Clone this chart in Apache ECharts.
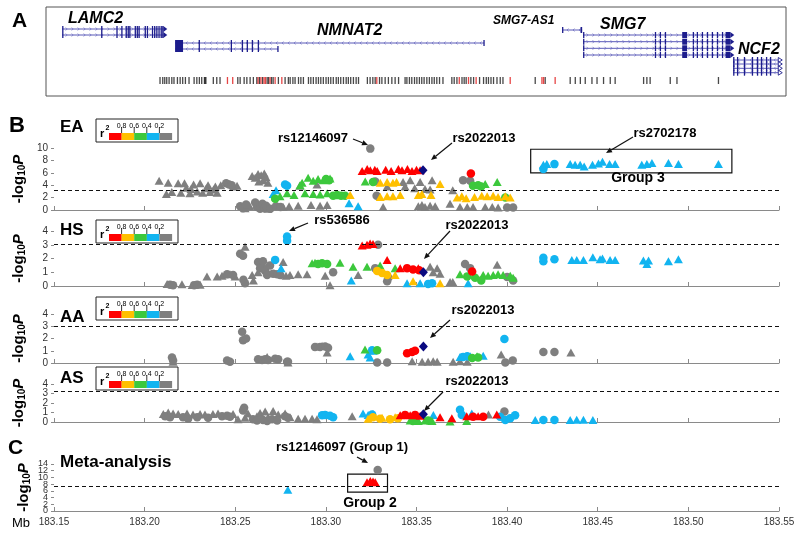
<!DOCTYPE html>
<html><head><meta charset="utf-8">
<script src="https://cdn.jsdelivr.net/npm/echarts@6/dist/echarts.min.js"></script>
<style>html,body{margin:0;padding:0;background:#fff}#c{width:800px;height:533px}</style>
</head><body><div id="c"></div>
<script>
// ================= DATA =================
const X_MIN = 183.15, X_MAX = 183.55, X_STEP = 0.05;
const xTickLabels = ['183.15','183.20','183.25','183.30','183.35','183.40','183.45','183.50','183.55'];

// ---- Panel A: transcripts (Mb) ----
const txGene  = ['LAMC2','LAMC2','NMNAT2','NMNAT2','SMG7-AS1','SMG7','SMG7','SMG7','SMG7','NCF2','NCF2','NCF2','NCF2'];
const txStart = [183.1545,183.1545,183.2168,183.2168,183.4303,183.4419,183.4419,183.4419,183.4419,183.5247,183.5247,183.5247,183.5247];
const txEnd   = [183.2103,183.2103,183.3873,183.2736,183.4414,183.5231,183.5231,183.5231,183.5231,183.5496,183.5496,183.5496,183.5496];
const txStrand= ['+','+','-','-','-','+','+','+','+','-','-','-','-'];
const exLAMC2 = [[183.1545,183.1552],[183.1760,183.1765],[183.1844,183.1849],[183.1871,183.1876],[183.1895,183.1899],[183.1906,183.1910],[183.1915,183.1920],[183.1945,183.1950],[183.1956,183.1960],[183.1966,183.1972],[183.2000,183.2005],[183.2012,183.2018],[183.2040,183.2046],[183.2052,183.2058],[183.2064,183.2070],[183.2076,183.2082],[183.2088,183.2094],[183.2097,183.2103]];
const exNMNAT2a = [[183.2168,183.2212],[183.2298,183.2302],[183.2475,183.2479],[183.2536,183.2540],[183.2563,183.2567],[183.2591,183.2595],[183.2624,183.2628],[183.3869,183.3873]];
const exNMNAT2b = [[183.2168,183.2212],[183.2298,183.2302],[183.2475,183.2479],[183.2536,183.2540],[183.2563,183.2567],[183.2591,183.2595],[183.2624,183.2628],[183.2732,183.2736]];
const exSMG7AS1 = [[183.4303,183.4308],[183.4405,183.4414]];
const exSMG7 = [[183.4419,183.4424],[183.4815,183.4819],[183.4842,183.4846],[183.4870,183.4874],[183.4966,183.4993],[183.5024,183.5028],[183.5046,183.5050],[183.5074,183.5078],[183.5102,183.5106],[183.5129,183.5133],[183.5157,183.5161],[183.5185,183.5189],[183.5205,183.5231]];
const exNCF2 = [[183.5247,183.5250],[183.5268,183.5271],[183.5306,183.5310],[183.5350,183.5354],[183.5378,183.5382],[183.5400,183.5404],[183.5428,183.5432],[183.5450,183.5454]];
const txExons = [exLAMC2,exLAMC2,exNMNAT2a,exNMNAT2b,exSMG7AS1,exSMG7,exSMG7,exSMG7,exSMG7,exNCF2,exNCF2,exNCF2,exNCF2];

// ---- Panel A: SNP positions (Mb) ----
const snpBlack = [183.2085,183.2100,183.2111,183.2122,183.2135,183.2150,183.2162,183.2181,183.2196,183.2210,183.2225,183.2245,183.2273,183.2288,183.2302,183.2315,183.2330,183.2334,183.2338,183.2379,183.2398,183.2416,183.2514,183.2527,183.2549,183.2564,183.2582,183.2600,183.2619,183.2634,183.2651,183.2676,183.2684,183.2700,183.2709,183.2738,183.2775,183.2793,
183.2803,183.2818,183.2830,183.2849,183.2862,183.2876,183.2904,183.2917,183.2931,183.2946,183.2959,183.2972,183.2986,183.3001,183.3014,183.3027,183.3041,183.3057,183.3069,183.3082,183.3097,183.3112,183.3124,183.3137,183.3152,183.3167,183.3180,183.3229,183.3244,183.3259,183.3272,183.3296,183.3309,183.3327,183.3345,183.3364,183.3382,183.3401,183.3437,183.3447,183.3461,183.3474,183.3489,183.3502,183.3516,183.3529,183.3542,183.3557,183.3571,183.3585,183.3598,183.3612,183.3627,183.3646,183.3695,183.3708,183.3723,183.3751,183.3763,183.3774,183.3800,183.3815,183.3848,183.3870,183.3885,183.3897,183.3911,183.3925,183.3944,183.3962,183.3977,
183.4155,183.4210,183.4348,183.4376,183.4404,183.4431,183.4468,183.4496,183.4532,183.4569,183.4596,183.4753,183.4771,183.4789,183.4900,183.4937,183.5166];
const snpRed = [183.2457,183.2486,183.2626,183.2642,183.2659,183.2667,183.2692,183.2720,183.2757,183.3281,183.3736,183.3787,183.3829,183.4017,183.4192,183.4201,183.4265];

// ---- EA ----
const EA_gray_t = [[183.2080,4.7],[183.2130,4.4],[183.2185,4.3],[183.2220,4.3],[183.2270,4.1],[183.2306,4.3],[183.2350,4.0],[183.2390,3.8],[183.2420,4.0],[183.2490,3.8],[183.2510,3.9],
[183.2120,2.6],[183.2150,2.9],[183.2200,2.8],[183.2250,2.7],[183.2290,3.0],[183.2320,2.8],[183.2360,2.9],[183.2400,2.8],
[183.2256,3.4],[183.2340,3.5],[183.2230,3.6],[183.2380,3.3],
[183.2593,5.5],[183.2610,5.2],[183.2626,5.8],[183.2643,5.6],[183.2660,5.9],[183.2670,5.3],[183.2654,4.8],[183.2680,4.4],[183.2630,4.6],
[183.2554,0.3],[183.2580,0.6],[183.2680,0.2],[183.2764,0.5],[183.2797,0.6],[183.2847,0.7],[183.2918,0.8],[183.2968,0.7],[183.3007,0.8],
[183.2856,3.9],[183.2951,4.1],[183.3316,0.5],[183.3338,3.8],
[183.3426,4.5],[183.3465,4.8],[183.3520,4.5],[183.3437,3.8],[183.3490,3.5],[183.3547,3.4],[183.3575,3.3],[183.3586,4.8],
[183.3510,0.6],[183.3530,0.8],[183.3547,0.5],[183.3575,0.7],[183.3603,0.6],[183.3685,1.0],[183.3700,3.2],
[183.3740,0.5],[183.3780,0.5],[183.3812,0.5],[183.3879,0.5],[183.3918,0.5],[183.3950,0.4]];
const EA_gray_c = [[183.2450,4.3],[183.2466,4.1],[183.2480,4.0],
[183.2527,0.6],[183.2543,0.3],[183.2560,0.9],[183.2610,1.2],[183.2620,0.5],[183.2637,0.2],[183.2650,1.0],[183.2660,0.3],[183.2670,0.7],[183.2693,0.2],[183.2725,0.6],[183.2750,0.5],
[183.3245,9.9],[183.3272,4.6],[183.3280,2.3],[183.3757,4.8],[183.3796,4.7],[183.4000,0.4],[183.4033,0.4]];
const EA_blue_t = [[183.2725,3.2],[183.2709,2.6],[183.3128,1.1],[183.3178,0.6],
[183.4200,7.3],[183.4219,7.4],[183.4348,7.4],[183.4375,7.3],[183.4403,7.3],[183.4425,7.0],[183.4471,7.3],[183.4504,7.5],[183.4526,7.8],[183.4565,7.4],[183.4596,7.4],[183.4743,7.3],[183.4771,7.4],[183.4799,7.6],[183.4890,7.6],[183.4945,7.4],[183.5166,7.4]];
const EA_blue_c = [[183.2775,4.1],[183.2786,3.9],[183.4200,6.6],[183.4261,7.4]];
const EA_green_t = [[183.2869,4.4],[183.2902,5.2],[183.2930,4.7],[183.2957,5.0],[183.2985,4.8],[183.2858,4.0],[183.3023,5.1],
[183.2747,2.2],[183.2786,2.7],[183.2824,2.4],[183.2885,2.7],[183.2930,2.6],[183.2968,2.5],[183.3007,2.7],[183.3217,4.6],[183.3879,4.2],[183.3945,4.5]];
const EA_green_c = [[183.3001,5.0],[183.3018,4.8],[183.2720,1.8],[183.3040,2.3],[183.3062,2.4],[183.3084,2.3],[183.3106,2.3],[183.3260,4.5],[183.3812,3.9],[183.3857,3.8],[183.3840,4.0],[183.3990,2.0]];
const EA_orange_t = [[183.3134,2.4],[183.3300,4.4],[183.3338,4.5],[183.3370,4.4],[183.3390,4.5],[183.3300,2.1],[183.3338,2.2],[183.3370,2.2],[183.3410,2.4],[183.3510,2.4],[183.3530,2.6],[183.3580,2.4],[183.3630,4.2],[183.3724,2.0],[183.3750,2.2],[183.3774,1.9],[183.3820,2.1],[183.3860,2.3],[183.3890,2.2],[183.3923,2.3],[183.3950,2.1],[183.3990,2.2],[183.4017,2.0]];
const EA_red_t = [[183.3200,6.3],[183.3228,6.6],[183.3245,6.4],[183.3270,6.5],[183.3283,6.3],[183.3330,6.5],[183.3360,6.3],[183.3400,6.6],[183.3420,6.4],[183.3450,6.6],[183.3475,6.3],[183.3500,6.5],[183.3520,6.4]];
const EA_red_c = [[183.3800,5.9]];
const EA_navy = [[183.3536,6.4]];

// ---- HS ----
const HS_gray_t = [[183.2124,0.15],[183.2206,0.12],[183.2262,0.08],[183.2306,0.1],[183.2344,0.7],[183.2400,0.7],[183.2427,0.75],[183.2471,0.85],[183.2499,0.7],[183.2554,2.85],[183.2593,0.8],[183.2600,0.4],[183.2626,1.0],[183.2653,1.6],[183.2681,1.0],[183.2764,1.75],[183.2780,0.75],[183.2802,0.8],[183.2847,0.85],[183.2896,0.85],[183.2996,0.75],[183.3023,0.05],[183.3178,0.8],
[183.3575,1.4],[183.3614,1.3],[183.3592,1.0],[183.3630,0.9],[183.3685,0.3],[183.3700,0.3],[183.3945,1.55]];
const HS_gray_c = [[183.2140,0.1],[183.2157,0.05],[183.2273,0.05],[183.2290,0.1],[183.2455,0.85],[183.2488,0.8],[183.2527,2.35],[183.2543,2.2],[183.2545,0.45],[183.2554,0.2],[183.2626,1.75],[183.2637,1.3],[183.2653,1.8],[183.2665,1.1],[183.2676,0.8],[183.2692,1.5],[183.2709,0.9],[183.2731,0.85],[183.2748,0.8],[183.3040,1.0],[183.3272,1.3],[183.3288,3.0],[183.3338,0.35],[183.3345,0.6],[183.3768,1.6],[183.3796,1.3],[183.4000,0.65],[183.4033,0.4]];
const HS_blue_c = [[183.2720,1.9],[183.2786,3.6],[183.2786,3.3],[183.3564,0.15],[183.3586,0.2],[183.4200,2.05],[183.4200,1.8],[183.4261,1.95]];
const HS_blue_t = [[183.2753,1.3],[183.3140,0.4],[183.3448,0.2],[183.3520,0.2],[183.3785,0.2],[183.4357,1.9],[183.4384,1.9],[183.4421,1.9],[183.4473,2.1],[183.4513,1.95],[183.4526,2.0],[183.4568,1.9],[183.4596,1.9],[183.4752,1.85],[183.4780,1.85],[183.4771,1.6],[183.4890,1.8],[183.4945,1.95]];
const HS_green_t = [[183.2924,1.65],[183.2940,1.7],[183.3078,1.7],[183.3150,1.4],[183.3227,1.4],[183.3299,1.5],[183.3382,1.3],[183.3740,0.85],[183.3868,0.8],[183.3895,0.75],[183.3923,0.8],[183.3950,0.85],[183.3978,0.8],[183.4017,0.75],[183.4033,0.6]];
const HS_green_c = [[183.2957,1.6],[183.2979,1.65],[183.3007,1.6],[183.3780,0.7],[183.3823,0.6],[183.3857,0.4]];
const HS_orange_t = [[183.3382,0.8],[183.3481,0.35],[183.3630,0.2]];
const HS_orange_c = [[183.3283,1.1],[183.3310,0.95],[183.3338,0.8]];
const HS_red_t = [[183.3200,2.95],[183.3227,3.0],[183.3244,3.1],[183.3260,3.05],[183.3338,1.9],[183.3410,1.3],[183.3510,1.3]];
const HS_red_c = [[183.3448,1.3],[183.3481,1.2],[183.3515,1.15],[183.3807,1.05]];
const HS_navy = [[183.3538,1.0]];

// ---- AA ----
const AA_gray_c = [[183.2151,0.45],[183.2157,0.2],[183.2455,0.2],[183.2471,0.1],[183.2538,2.55],[183.2543,1.85],[183.2560,2.0],[183.2626,0.3],[183.2648,0.25],[183.2665,0.3],[183.2681,0.25],[183.2720,0.35],[183.2737,0.3],[183.2786,0.1],[183.2791,0.1],[183.2940,1.3],[183.2968,1.3],[183.2996,1.35],[183.3012,1.25],[183.3283,0.05],[183.3338,0.05],[183.3990,0.05],[183.4031,0.2],[183.4200,0.9],[183.4261,0.9]];
const AA_gray_t = [[183.2157,0.1],[183.2676,0.5],[183.2791,0.05],[183.2951,1.35],[183.2979,1.4],[183.3007,0.85],[183.3476,0.15],[183.3531,0.1],[183.3564,0.1],[183.3592,0.15],[183.3614,0.1],[183.3702,0.1],[183.3740,0.15],[183.3780,0.1],[183.3967,0.7],[183.4352,0.85]];
const AA_blue_t = [[183.3134,0.55],[183.3233,0.7],[183.3244,0.45],[183.3260,1.0],[183.3740,0.5],[183.3796,0.55],[183.3868,0.6]];
const AA_blue_c = [[183.3255,1.05],[183.3757,0.5],[183.3780,0.55],[183.3985,1.95]];
const AA_green_t = [[183.3216,1.1],[183.3834,0.55]];
const AA_green_c = [[183.3283,1.05],[183.3807,0.4],[183.3840,0.45]];
const AA_red_c = [[183.3448,0.8],[183.3476,0.9],[183.3492,1.0]];
const AA_navy = [[183.3538,1.35]];

// ---- AS ----
const AS_gray_t = [[183.2103,0.85],[183.2130,1.0],[183.2157,0.9],[183.2185,0.85],[183.2234,0.9],[183.2267,0.8],[183.2306,0.85],[183.2333,0.8],[183.2377,0.85],[183.2405,0.9],[183.2488,0.85],[183.2515,0.3],[183.2554,0.45],[183.2570,0.9],[183.2620,0.6],[183.2637,0.95],[183.2665,1.1],[183.2681,0.5],[183.2709,1.15],[183.2737,0.8],[183.2775,0.9],[183.2802,0.5],[183.2847,0.35],[183.2885,0.35],[183.2924,0.35],[183.2951,0.3],[183.3145,0.6],[183.3897,0.8]];
const AS_gray_c = [[183.2113,0.6],[183.2140,0.5],[183.2212,0.5],[183.2240,0.35],[183.2290,0.5],[183.2350,0.45],[183.2427,0.6],[183.2455,0.65],[183.2471,0.55],[183.2549,1.5],[183.2543,1.2],[183.2598,0.3],[183.2620,0.15],[183.2653,0.2],[183.2676,0.1],[183.2703,0.3],[183.2731,0.15],[183.2775,0.6],[183.2791,0.45],[183.3985,1.1]];
const AS_blue_c = [[183.2979,0.7],[183.2996,0.75],[183.3023,0.65],[183.3040,0.5],[183.3255,0.8],[183.3740,1.3],[183.3750,0.75],[183.3961,0.55],[183.4017,0.4],[183.4044,0.7],[183.3990,0.2],[183.4200,0.2],[183.4261,0.2]];
const AS_blue_t = [[183.3205,0.9],[183.3233,0.75],[183.3260,0.85],[183.3593,0.75],[183.3805,0.9],[183.4155,0.2],[183.4348,0.2],[183.4384,0.25],[183.4421,0.25],[183.4473,0.2]];
const AS_green_t = [[183.3465,0.15],[183.3510,0.1],[183.3547,0.15],[183.3586,0.1],[183.3685,0.05],[183.3777,0.1]];
const AS_green_c = [[183.3480,0.1],[183.3564,0.15]];
const AS_orange_t = [[183.3233,0.35],[183.3310,0.45],[183.3382,0.5]];
const AS_orange_c = [[183.3260,0.5],[183.3299,0.35],[183.3354,0.3],[183.3398,0.4]];
const AS_red_t = [[183.3410,0.7],[183.3465,0.7],[183.3520,0.65],[183.3630,0.5],[183.3695,0.4],[183.3777,0.6],[183.3840,0.6],[183.3943,0.8]];
const AS_red_c = [[183.3437,0.75],[183.3492,0.75],[183.3812,0.55],[183.3868,0.55]];
const AS_navy = [[183.3538,0.82]];

// ---- Meta-analysis ----
const META_blue_t = [[183.2790,6.3]];
const META_red_t = [[183.3227,8.6],[183.3245,8.9],[183.3260,8.8],[183.3272,8.6]];
const META_gray_c = [[183.3286,12.2]];

// thresholds (-log10 P), y-axis ranges and tick labels
const thresholds = [3.15, 3.05, 3.0, 3.2, 7.3];
const yMax = [10, 4, 4, 4, 14];
const yStep = [2, 1, 1, 1, 2];
const yTickLabels = [
  ['0','2','4','6','8','10'],
  ['0','1','2','3','4'],
  ['0','1','2','3','4'],
  ['0','1','2','3','4'],
  ['0','2','4','6','8','10','12','14']
];
const panelNames = ['EA','HS','AA','AS','Meta-analysis'];
const group3Box = [[183.413, 6.0],[183.524, 9.8]];
const group2Box = [[183.312, 5.65],[183.334, 11.0]];
const legendBreaks = ['0.8','0.6','0.4','0.2'];

// ================= STYLE / LAYOUT =================
const FONT = 'Liberation Sans, Arial, sans-serif';
const C = {red:'#FF0000', orange:'#FFC000', green:'#3CC83C', blue:'#12B4F0', gray:'#7F7F7F', navy:'#0A0A80'};
const GENE_C = '#1C1C8C';
const GRID_L = 54, GRID_W = 725;
const gridTop = [7,148,231,314,384,464];
const gridH   = [89,62,55,49,38,47];
const txRowY  = [22,28,36,42,23,28,34.7,41.3,48,53,57,61.3,65.7];
const txEndMark = ['arrow','arrow','','','','arrow','arrow','arrow','arrow','open','open','open','open'];
const SNP_ROW = 73.5;
const yLabelFont = [10,10,10,10,9];

const grids = gridTop.map((t,i)=>({left:GRID_L, top:t, width:GRID_W, height:gridH[i]}));
const xAxes = gridTop.map((t,i)=>({
  gridIndex:i, type:'value', min:X_MIN, max:X_MAX, interval:X_STEP, show:i>0,
  axisLine:{show:true, onZero:false, lineStyle:{color:'#8a8a8a', width:1}},
  axisTick:{show:true, inside:true, length:4, lineStyle:{color:'#8a8a8a'}},
  axisLabel:{show:i===5, fontSize:10, color:'#333', margin:6, fontFamily:FONT, showMinLabel:true, showMaxLabel:true, hideOverlap:false,
    formatter:v=>{const k=Math.round((v-X_MIN)/X_STEP); return xTickLabels[k]||'';}},
  splitLine:{show:false}
}));
const yAxes = gridTop.map((t,i)=>{
  if(i===0) return {gridIndex:0, type:'value', min:0, max:89, inverse:true, show:false};
  const p=i-1;
  return {gridIndex:i, type:'value', min:0, max:yMax[p], interval:yStep[p],
    axisLine:{show:false}, axisTick:{show:true, length:3, lineStyle:{color:'#8a8a8a'}},
    axisLabel:{show:false},
    splitLine:{show:false},
    name:'{a|-log}{b|10}{c|P}', nameLocation:'middle', nameRotate:90, nameGap:i===5?22:27,
    nameTextStyle:{rich:{
      a:{fontSize:15, fontWeight:'bold', fontFamily:FONT, color:'#000'},
      b:{fontSize:10, fontWeight:'bold', fontFamily:FONT, color:'#000', verticalAlign:'bottom', padding:[6,0,0,0]},
      c:{fontSize:15, fontWeight:'bold', fontStyle:'italic', fontFamily:FONT, color:'#000'}}}
  };
});

const series = [];
// transcripts
series.push({
  type:'custom', xAxisIndex:0, yAxisIndex:0, silent:true,
  data: txGene.map((g,i)=>[txStart[i], txEnd[i], txRowY[i]]),
  renderItem:(params, api)=>{
    const i = params.dataIndex;
    const y = api.coord([X_MIN, api.value(2)])[1];
    const x1 = api.coord([api.value(0), 0])[0], x2 = api.coord([api.value(1), 0])[0];
    const ch = [{type:'line', shape:{x1, y1:y, x2, y2:y}, style:{stroke:'#4848b0', lineWidth:0.9}}];
    const dir = txStrand[i]==='+' ? 1 : -1;
    for(let k=x1+5; k<x2-3; k+=6){
      ch.push({type:'polyline', shape:{points:[[k-1.5*dir,y-1.5],[k,y],[k-1.5*dir,y+1.5]]}, style:{stroke:'#6a6ac0', lineWidth:0.7, fill:null}});
    }
    txExons[i].forEach(([s,e])=>{
      const a = api.coord([s,0])[0], b = api.coord([e,0])[0];
      ch.push({type:'rect', shape:{x:a, y:y-3, width:Math.max(1.3,b-a), height:6}, style:{fill:GENE_C}});
    });
    if(txEndMark[i]==='arrow'){
      ch.push({type:'polygon', shape:{points:[[x2,y-3],[x2+4,y],[x2,y+3]]}, style:{fill:GENE_C}});
    } else if(txEndMark[i]==='open'){
      ch.push({type:'polygon', shape:{points:[[x2,y-2.5],[x2+4,y],[x2,y+2.5]]}, style:{fill:'#fff', stroke:GENE_C, lineWidth:0.9}});
    }
    return {type:'group', children:ch};
  }
});
series.push({type:'scatter', xAxisIndex:0, yAxisIndex:0, silent:true, symbol:'rect', symbolSize:[1.3,7],
  itemStyle:{color:'#1a1a1a'}, data:snpBlack.map(v=>[v,SNP_ROW])});
series.push({type:'scatter', xAxisIndex:0, yAxisIndex:0, silent:true, symbol:'rect', symbolSize:[1.3,7],
  itemStyle:{color:'#e01818'}, data:snpRed.map(v=>[v,SNP_ROW])});

function sc(gi, data, color, shape, extra){
  const size = shape==='circle' ? 8.5 : (shape==='diamond' ? [9,10] : [9,8]);
  return Object.assign({type:'scatter', xAxisIndex:gi, yAxisIndex:gi, silent:true, data, symbol:shape,
    symbolSize:size, itemStyle:{color, opacity:1}, animation:false}, extra||{});
}
function thr(gi){
  return {markLine:{silent:true, symbol:'none', label:{show:false},
    lineStyle:{type:[4,3], color:'#111', width:1.2}, data:[{yAxis:thresholds[gi-1]}]}};
}
const boxStyle = {silent:true, itemStyle:{color:'rgba(0,0,0,0)', borderColor:'#111', borderWidth:1.2}, label:{show:false}};

// EA (grid 1)
series.push(sc(1, EA_gray_t, C.gray, 'triangle', thr(1)));
series.push(sc(1, EA_gray_c, C.gray, 'circle'));
series.push(sc(1, EA_blue_t, C.blue, 'triangle', {markArea:Object.assign({data:[[{coord:group3Box[0]},{coord:group3Box[1]}]]}, boxStyle)}));
series.push(sc(1, EA_blue_c, C.blue, 'circle'));
series.push(sc(1, EA_green_t, C.green, 'triangle'));
series.push(sc(1, EA_green_c, C.green, 'circle'));
series.push(sc(1, EA_orange_t, C.orange, 'triangle'));
series.push(sc(1, EA_red_t, C.red, 'triangle'));
series.push(sc(1, EA_red_c, C.red, 'circle'));
series.push(sc(1, EA_navy, C.navy, 'diamond'));
// HS (grid 2)
series.push(sc(2, HS_gray_t, C.gray, 'triangle', thr(2)));
series.push(sc(2, HS_gray_c, C.gray, 'circle'));
series.push(sc(2, HS_blue_t, C.blue, 'triangle'));
series.push(sc(2, HS_blue_c, C.blue, 'circle'));
series.push(sc(2, HS_green_t, C.green, 'triangle'));
series.push(sc(2, HS_green_c, C.green, 'circle'));
series.push(sc(2, HS_orange_t, C.orange, 'triangle'));
series.push(sc(2, HS_orange_c, C.orange, 'circle'));
series.push(sc(2, HS_red_t, C.red, 'triangle'));
series.push(sc(2, HS_red_c, C.red, 'circle'));
series.push(sc(2, HS_navy, C.navy, 'diamond'));
// AA (grid 3)
series.push(sc(3, AA_gray_t, C.gray, 'triangle', thr(3)));
series.push(sc(3, AA_gray_c, C.gray, 'circle'));
series.push(sc(3, AA_blue_t, C.blue, 'triangle'));
series.push(sc(3, AA_blue_c, C.blue, 'circle'));
series.push(sc(3, AA_green_t, C.green, 'triangle'));
series.push(sc(3, AA_green_c, C.green, 'circle'));
series.push(sc(3, AA_red_c, C.red, 'circle'));
series.push(sc(3, AA_navy, C.navy, 'diamond'));
// AS (grid 4)
series.push(sc(4, AS_gray_t, C.gray, 'triangle', thr(4)));
series.push(sc(4, AS_gray_c, C.gray, 'circle'));
series.push(sc(4, AS_blue_t, C.blue, 'triangle'));
series.push(sc(4, AS_blue_c, C.blue, 'circle'));
series.push(sc(4, AS_green_t, C.green, 'triangle'));
series.push(sc(4, AS_green_c, C.green, 'circle'));
series.push(sc(4, AS_orange_t, C.orange, 'triangle'));
series.push(sc(4, AS_orange_c, C.orange, 'circle'));
series.push(sc(4, AS_red_t, C.red, 'triangle'));
series.push(sc(4, AS_red_c, C.red, 'circle'));
series.push(sc(4, AS_navy, C.navy, 'diamond'));
// Meta (grid 5)
series.push(sc(5, META_blue_t, C.blue, 'triangle', Object.assign(thr(5), {markArea:Object.assign({data:[[{coord:group2Box[0]},{coord:group2Box[1]}]]}, boxStyle)})));
series.push(sc(5, META_red_t, C.red, 'triangle'));
series.push(sc(5, META_gray_c, C.gray, 'circle'));

// ================= GRAPHICS (labels, legends, annotations) =================
const g = [];
g.push({type:'rect', shape:{x:46, y:7, width:740, height:89}, style:{fill:null, stroke:'#555', lineWidth:1}, z:1});
function txt(text, x, y, font, align, extra){
  return {type:'text', x, y, z:50, style:Object.assign({text, font, fill:'#000', align:align||'left', verticalAlign:'middle'}, extra||{})};
}
g.push(txt('A', 12, 21, 'bold 21px '+FONT));
g.push(txt('B', 9, 126, 'bold 22px '+FONT));
g.push(txt('C', 8, 448, 'bold 21px '+FONT));
// gene names
g.push(txt('LAMC2', 68, 19, 'italic bold 16px '+FONT));
g.push(txt('NMNAT2', 317, 31, 'italic bold 16px '+FONT));
g.push(txt('SMG7-AS1', 493, 21, 'italic bold 12px '+FONT));
g.push(txt('SMG7', 600, 25, 'italic bold 16px '+FONT));
g.push(txt('NCF2', 738, 50, 'italic bold 16px '+FONT));
// panel titles
const titleY = [127, 230, 317, 378, 462];
panelNames.forEach((n,i)=>g.push(txt(n, 60, titleY[i], 'bold 17px '+FONT)));
g.push(txt('Mb', 12, 523, '13px '+FONT));
// r2 legends
const legendTops = [119, 220, 297, 367];
const legCols = [C.red, C.orange, C.green, C.blue, C.gray];
legendTops.forEach(t=>{
  const ch = [{type:'rect', shape:{x:0,y:0,width:82,height:23}, style:{fill:'#fff', stroke:'#222', lineWidth:1}}];
  ch.push({type:'text', x:4, y:15, style:{text:'r', font:'bold 11px '+FONT, fill:'#000', verticalAlign:'middle'}});
  ch.push({type:'text', x:9.5, y:9, style:{text:'2', font:'bold 7px '+FONT, fill:'#000', verticalAlign:'middle'}});
  legCols.forEach((c,k)=>ch.push({type:'rect', shape:{x:13+k*12.6, y:14, width:12.7, height:7}, style:{fill:c}}));
  legendBreaks.forEach((lb,k)=>{
    const x = 25.6+k*12.6;
    ch.push({type:'line', shape:{x1:x, y1:8, x2:x, y2:14}, style:{stroke:'#000', lineWidth:0.8}});
    ch.push({type:'text', x:x, y:7, style:{text:lb, font:'7px '+FONT, fill:'#000', align:'center', verticalAlign:'middle'}});
  });
  g.push({type:'group', x:96, y:t, z:40, children:ch});
});
// annotations
const bold13 = 'bold 13px '+FONT;
g.push(txt('rs12146097', 313, 138, bold13, 'center'));
g.push(txt('rs2022013', 484, 138, bold13, 'center'));
g.push(txt('rs2702178', 665, 133, bold13, 'center'));
g.push(txt('Group 3', 638, 178, 'bold 14px '+FONT, 'center'));
g.push(txt('rs536586', 342, 220, bold13, 'center'));
g.push(txt('rs2022013', 477, 225, bold13, 'center'));
g.push(txt('rs2022013', 483, 310, bold13, 'center'));
g.push(txt('rs2022013', 477, 381, bold13, 'center'));
g.push(txt('rs12146097 (Group 1)', 342, 447, bold13, 'center'));
g.push(txt('Group 2', 370, 503, 'bold 14px '+FONT, 'center'));
function arrow(x1,y1,x2,y2){
  const dx=x2-x1, dy=y2-y1, L=Math.hypot(dx,dy), ux=dx/L, uy=dy/L, h=6, w=2.6;
  const bx=x2-ux*h, by=y2-uy*h;
  g.push({type:'line', z:45, shape:{x1,y1,x2:bx,y2:by}, style:{stroke:'#111', lineWidth:1.2}});
  g.push({type:'polygon', z:45, shape:{points:[[x2,y2],[bx-uy*w,by+ux*w],[bx+uy*w,by-ux*w]]}, style:{fill:'#111'}});
}
arrow(353,139,368,145);
arrow(452,143,431,160);
arrow(633,137,606,153);
arrow(308,223,289,231);
arrow(450,231,424,259);
arrow(450,320,430,338);
arrow(443,392,424,411);
arrow(357,457,368,463);

const chart = echarts.init(document.getElementById('c'), null, {renderer:'canvas'});
chart.setOption({animation:false, backgroundColor:'#fff', grid:grids, xAxis:xAxes, yAxis:yAxes, series});
// y tick labels placed through each panel's own y scale
yTickLabels.forEach((labels,p)=>{
  labels.forEach((lab,k)=>{
    const v = k*yStep[p];
    const pt = chart.convertToPixel({gridIndex:p+1}, [X_MIN, v]);
    g.push({type:'text', x:pt[0]-6, y:pt[1], z:50, style:{text:lab, font:yLabelFont[p]+'px '+FONT, fill:'#333', align:'right', verticalAlign:'middle'}});
  });
});
chart.setOption({graphic:g});
</script>
</body></html>
